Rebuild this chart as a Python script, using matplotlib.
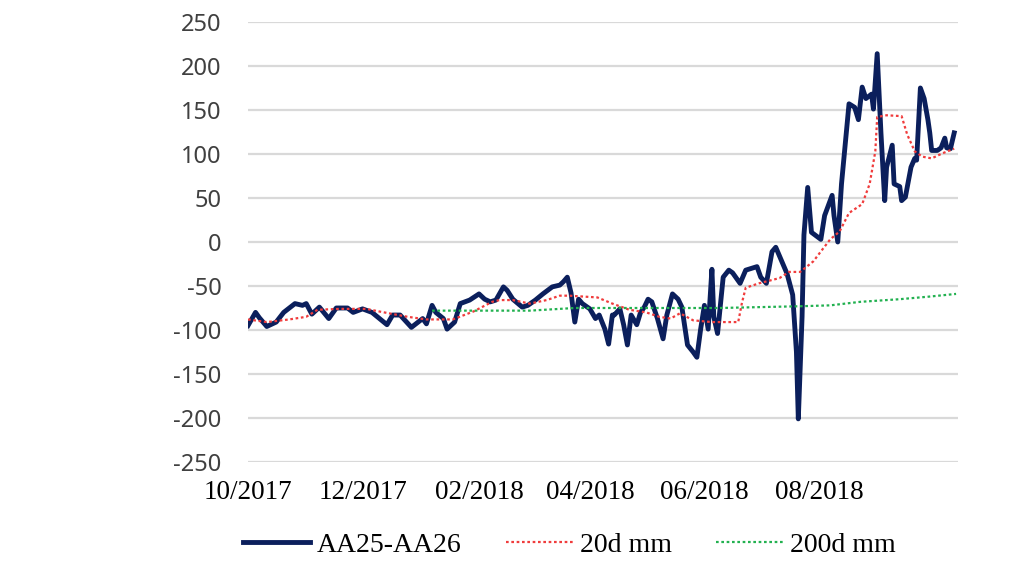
#!/usr/bin/env python3
"""AA25-AA26 spread with its 20d and 200d moving averages (10/2017 - 10/2018)."""
import matplotlib
matplotlib.use("Agg")
import matplotlib.pyplot as plt
import matplotlib.dates as mdates
import pandas as pd

plt.rcParams["axes.unicode_minus"] = False

START = pd.Timestamp("2017-10-01")

# spread: day offset from START, value
SPREAD_DAY = [0, 4, 6, 10, 15, 19, 25, 29, 31, 34, 38, 43, 47, 53, 56, 61, 66, 74, 77, 81,
              87, 93, 95, 98, 100, 104, 106, 110, 113, 118, 123, 126, 129, 132, 136, 138,
              141, 146, 149, 153, 157, 162, 166, 168, 170, 172, 174, 176, 178, 182, 185,
              187, 190, 192, 194, 195, 198, 200, 202, 204, 207, 209, 211, 213, 215, 218,
              221, 223, 226, 229, 231, 234, 237, 239, 241, 243, 245, 247, 248, 250, 253,
              256, 258, 262, 265, 271, 273, 276, 279, 281, 284, 287, 290, 292, 293, 295,
              296, 298, 300, 305, 307, 311, 312, 314, 316, 320, 323, 325, 327, 329, 332,
              333, 335, 337, 339, 340, 343, 344, 347, 348, 350, 353, 355, 356, 358, 360,
              362, 363, 364, 367, 369, 371, 372, 374, 376]
SPREAD = [-95, -80, -86, -96, -91, -80, -70, -72, -70, -82, -74, -87, -75, -75, -80, -76, -80,
          -94, -83, -83, -97, -87, -93, -72, -80, -87, -99, -91, -70, -66, -59, -65, -68, -66,
          -51, -55, -65, -74, -72, -66, -59, -51, -49, -45, -40, -58, -91, -65, -70, -76, -87,
          -83, -99, -116, -83, -83, -76, -94, -117, -83, -94, -80, -74, -65, -68, -87, -110,
          -83, -59, -65, -74, -117, -125, -131, -99, -72, -99, -31, -85, -104, -40, -32, -35,
          -47, -32, -28, -40, -47, -11, -6, -21, -36, -60, -125, -201, -85, 8, 62, 11, 3, 30,
          53, 30, 0, 66, 157, 153, 139, 176, 163, 168, 151, 214, 124, 47, 85, 110, 66, 63, 47,
          51, 85, 95, 93, 175, 163, 139, 124, 104, 104, 107, 118, 107, 106, 124]

# 20-day moving average
MA20_DAY = [0, 10, 22, 31, 37, 49, 63, 70, 85, 95, 109, 120, 130, 134, 141, 150, 159, 166,
            171, 186, 194, 203, 212, 219, 225, 230, 237, 247, 261, 263, 265, 272, 283, 288,
            294, 301, 306, 310, 315, 320, 327, 331, 334, 335, 340, 348, 351, 355, 359, 364,
            370, 376]
MA20 = [-88, -91, -88, -85, -77, -76, -76, -79, -85, -88, -88, -79, -68, -66, -66, -70, -66,
        -61, -61, -63, -70, -77, -80, -85, -87, -81, -89, -91, -91, -69, -52, -47, -41, -34,
        -34, -22, -8, 3, 12, 33, 43, 66, 103, 142, 144, 143, 122, 103, 97, 95, 101, 106]

# 200-day moving average
MA200_DAY = [98, 150, 166, 174, 251, 294, 310, 326, 347, 363, 377]
MA200 = [-78, -78, -76, -75, -75, -73, -72, -68, -65, -62, -59]

TICK_MONTHS = ["2017-10-01", "2017-12-01", "2018-02-01", "2018-04-01", "2018-06-01", "2018-08-01"]
Y_TICKS = list(range(-250, 251, 50))


def to_dates(days):
    return START + pd.to_timedelta(days, unit="D")


def main():
    fig = plt.figure(figsize=(10.24, 5.77), dpi=100)
    ax = fig.add_axes([0.2422, 0.1993, 0.6933, 0.7626])

    ax.plot(to_dates(SPREAD_DAY), SPREAD, color="#0b1f5c", lw=3.5,
            solid_joinstyle="round", label="AA25-AA26", zorder=3)
    ax.plot(to_dates(MA20_DAY), MA20, color="#f03c3c", lw=1.6,
            linestyle=(0, (1.2, 1.2)), label="20d mm", zorder=4)
    ax.plot(to_dates(MA200_DAY), MA200, color="#22b150", lw=1.6,
            linestyle=(0, (1.2, 1.2)), label="200d mm", zorder=4)

    ax.set_xlim(START, START + pd.Timedelta(days=378))
    ax.set_ylim(-250, 250)
    ax.set_yticks(Y_TICKS)
    ax.set_xticks(pd.to_datetime(TICK_MONTHS))
    ax.xaxis.set_major_formatter(mdates.DateFormatter("%m/%Y"))

    ax.grid(axis="y", color="#d9d9d9", lw=1.6)
    ax.set_axisbelow(True)
    for s in ax.spines.values():
        s.set_visible(False)
    ax.tick_params(axis="both", length=0)
    ax.tick_params(axis="y", pad=19, labelsize=17, labelcolor="#404040")
    ax.tick_params(axis="x", pad=13, labelsize=19.5)
    for t in ax.get_yticklabels():
        t.set_fontfamily("Noto Sans")
    for t in ax.get_xticklabels():
        t.set_fontfamily("Liberation Serif")

    fig.legend(loc="center", bbox_to_anchor=(0.556, 0.055), ncol=3, frameon=False,
               prop={"family": "Liberation Serif", "size": 20},
               handlelength=2.4, handletextpad=0.25, columnspacing=1.6)

    fig.savefig("out.png", dpi=100)


if __name__ == "__main__":
    main()
